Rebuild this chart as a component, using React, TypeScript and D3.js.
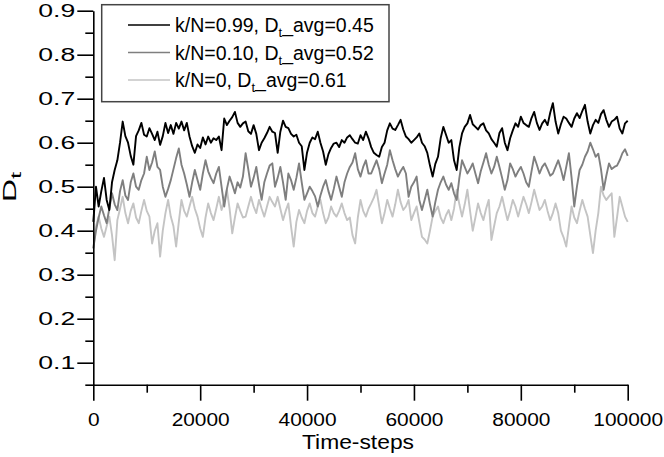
import { useEffect, useRef } from "react";
import * as d3 from "d3";

// one sample every 500 time-steps, 0 .. 100000
const TIME_STEP = 500;

const kn099 = [
  0.42, 0.5, 0.455, 0.49, 0.52, 0.47, 0.447, 0.51, 0.538, 0.56,
  0.6, 0.648, 0.615, 0.6, 0.57, 0.55, 0.615, 0.628, 0.645, 0.618,
  0.614, 0.633, 0.62, 0.606, 0.625, 0.595, 0.615, 0.645, 0.622, 0.64,
  0.62, 0.645, 0.632, 0.648, 0.628, 0.645, 0.614, 0.592, 0.577, 0.596,
  0.588, 0.612, 0.596, 0.614, 0.6, 0.61, 0.606, 0.614, 0.583, 0.655,
  0.64, 0.65, 0.658, 0.67, 0.645, 0.636, 0.644, 0.648, 0.626, 0.62,
  0.64, 0.62, 0.583, 0.6, 0.61, 0.622, 0.636, 0.625, 0.622, 0.577,
  0.625, 0.65, 0.636, 0.633, 0.62, 0.614, 0.618, 0.6, 0.592, 0.538,
  0.578, 0.6, 0.612, 0.608, 0.625, 0.6, 0.58, 0.55, 0.574, 0.588,
  0.598, 0.6, 0.59, 0.606, 0.6, 0.612, 0.617, 0.608, 0.6, 0.598,
  0.617, 0.606, 0.625, 0.61, 0.59, 0.577, 0.572, 0.568, 0.59, 0.6,
  0.628, 0.644, 0.632, 0.629, 0.64, 0.652, 0.63, 0.614, 0.608, 0.6,
  0.606, 0.612, 0.621, 0.6, 0.592, 0.577, 0.548, 0.523, 0.552, 0.568,
  0.61, 0.636, 0.618, 0.6, 0.606, 0.56, 0.538, 0.59, 0.621, 0.636,
  0.644, 0.663, 0.642, 0.636, 0.63, 0.64, 0.644, 0.628, 0.621, 0.608,
  0.6, 0.591, 0.622, 0.633, 0.6, 0.583, 0.61, 0.628, 0.644, 0.636,
  0.659, 0.645, 0.64, 0.636, 0.656, 0.67, 0.645, 0.629, 0.644, 0.652,
  0.64, 0.668, 0.69, 0.648, 0.621, 0.642, 0.659, 0.655, 0.645, 0.636,
  0.655, 0.667, 0.656, 0.672, 0.686, 0.648, 0.621, 0.64, 0.652, 0.645,
  0.665, 0.674, 0.652, 0.636, 0.648, 0.652, 0.659, 0.632, 0.621, 0.644,
  0.65,
];

const kn010 = [
  0.36, 0.4, 0.43, 0.455, 0.435, 0.417, 0.45, 0.485, 0.46, 0.447,
  0.49, 0.515, 0.48, 0.47, 0.51, 0.53, 0.5, 0.493, 0.515, 0.53,
  0.568, 0.538, 0.555, 0.58, 0.545, 0.538, 0.5, 0.477, 0.495, 0.515,
  0.54, 0.565, 0.587, 0.55, 0.53, 0.505, 0.477, 0.51, 0.538, 0.515,
  0.493, 0.53, 0.56, 0.535, 0.52, 0.508, 0.53, 0.545, 0.5, 0.455,
  0.495, 0.523, 0.505, 0.485, 0.51, 0.498, 0.523, 0.576, 0.54, 0.5,
  0.52, 0.545, 0.505, 0.47, 0.51, 0.53, 0.548, 0.553, 0.5, 0.52,
  0.545, 0.51, 0.47, 0.53, 0.515, 0.493, 0.52, 0.553, 0.51, 0.47,
  0.485, 0.5, 0.49, 0.478, 0.455, 0.48, 0.5, 0.515, 0.49, 0.47,
  0.495, 0.523, 0.5, 0.477, 0.51, 0.53, 0.545, 0.555, 0.576, 0.54,
  0.523, 0.545, 0.56, 0.53, 0.53, 0.545, 0.56, 0.54, 0.508, 0.53,
  0.55, 0.583, 0.56, 0.54, 0.523, 0.535, 0.545, 0.53, 0.477, 0.5,
  0.51, 0.523, 0.47, 0.447, 0.47, 0.493, 0.46, 0.432, 0.465, 0.493,
  0.51, 0.523, 0.505, 0.493, 0.508, 0.485, 0.47, 0.52, 0.56, 0.545,
  0.53, 0.54, 0.553, 0.53, 0.508, 0.535, 0.555, 0.576, 0.55, 0.53,
  0.545, 0.568, 0.545, 0.52, 0.493, 0.515, 0.553, 0.54, 0.523, 0.535,
  0.545, 0.53, 0.51, 0.5, 0.535, 0.568, 0.55, 0.53, 0.545, 0.553,
  0.54, 0.525, 0.53, 0.545, 0.56, 0.54, 0.515, 0.545, 0.576, 0.52,
  0.455, 0.5, 0.538, 0.55, 0.568, 0.58, 0.6, 0.585, 0.568, 0.575,
  0.54, 0.493, 0.525, 0.553, 0.54, 0.545, 0.548, 0.56, 0.576, 0.585,
  0.57,
];

const kn000 = [
  0.36, 0.41, 0.432, 0.405, 0.386, 0.41, 0.432, 0.39, 0.333, 0.424,
  0.45, 0.477, 0.44, 0.417, 0.445, 0.462, 0.43, 0.417, 0.445, 0.47,
  0.445, 0.432, 0.371, 0.4, 0.417, 0.341, 0.4, 0.44, 0.47, 0.432,
  0.41, 0.364, 0.42, 0.47, 0.445, 0.432, 0.455, 0.477, 0.45, 0.432,
  0.405, 0.386, 0.43, 0.462, 0.44, 0.424, 0.45, 0.477, 0.447, 0.47,
  0.493, 0.45, 0.394, 0.43, 0.462, 0.445, 0.43, 0.432, 0.455, 0.477,
  0.455, 0.44, 0.47, 0.45, 0.432, 0.455, 0.477, 0.465, 0.455, 0.477,
  0.45, 0.424, 0.445, 0.462, 0.41, 0.364, 0.42, 0.447, 0.43, 0.417,
  0.445, 0.462, 0.44, 0.432, 0.455, 0.47, 0.44, 0.417, 0.43, 0.455,
  0.44, 0.432, 0.445, 0.462, 0.44, 0.424, 0.43, 0.39, 0.371, 0.43,
  0.47, 0.445, 0.432, 0.45, 0.462, 0.475, 0.493, 0.455, 0.417, 0.44,
  0.47, 0.45, 0.432, 0.46, 0.493, 0.465, 0.447, 0.455, 0.47, 0.424,
  0.44, 0.455, 0.42, 0.386, 0.38, 0.371, 0.4, 0.432, 0.445, 0.455,
  0.43, 0.417, 0.435, 0.447, 0.424, 0.45, 0.493, 0.46, 0.432, 0.46,
  0.493, 0.445, 0.4, 0.43, 0.462, 0.44, 0.424, 0.45, 0.47, 0.379,
  0.41, 0.44, 0.455, 0.477, 0.45, 0.424, 0.445, 0.47, 0.455, 0.432,
  0.455, 0.477, 0.46, 0.44, 0.465, 0.493, 0.47, 0.447, 0.455, 0.47,
  0.445, 0.424, 0.44, 0.462, 0.44, 0.4, 0.385, 0.364, 0.41, 0.455,
  0.43, 0.417, 0.445, 0.47, 0.45, 0.432, 0.39, 0.349, 0.4, 0.44,
  0.5, 0.48, 0.47, 0.478, 0.485, 0.386, 0.43, 0.477, 0.455, 0.432,
  0.42,
];

const X_MAJOR = [0, 20000, 40000, 60000, 80000, 100000];
const X_MINOR = [10000, 30000, 50000, 70000, 90000];
const Y_MAJOR = [0.1, 0.2, 0.3, 0.4, 0.5, 0.6, 0.7, 0.8, 0.9];
const Y_MINOR = [0.05, 0.15, 0.25, 0.35, 0.45, 0.55, 0.65, 0.75, 0.85];

// legend order (top to bottom)
const LEGEND_KN = ["0.99", "0.10", "0"];
const LEGEND_AVG = ["0.45", "0.52", "0.61"];
const COLORS = ["#000000", "#7f7f7f", "#c4c4c4"];
const VALUES = [kn099, kn010, kn000];

const FONT = "'Liberation Sans', Arial, sans-serif";

export default function App() {
  const svgRef = useRef<SVGSVGElement>(null);

  useEffect(() => {
    const width = 664;
    const height = 457;
    const svg = d3.select(svgRef.current);
    svg.selectAll("*").remove();
    svg.attr("width", width).attr("height", height);

    const x = d3.scaleLinear().domain([0, 100000]).range([93.3, 627.7]);
    const y = d3.scaleLinear().domain([0.05, 0.9]).range([384.7, 10.7]);

    // ----- lines: lightest first so black sits on top -----
    const line = d3
      .line<number>()
      .x((_, i) => x(i * TIME_STEP))
      .y((d) => y(d));
    [2, 1, 0].forEach((s) => {
      svg
        .append("path")
        .datum(VALUES[s])
        .attr("fill", "none")
        .attr("stroke", COLORS[s])
        .attr("stroke-width", 1.9)
        .attr("stroke-linejoin", "round")
        .attr("d", line);
    });

    // ----- axes -----
    const styleAxis = (g: any) => {
      g.select(".domain").attr("stroke", "#000").attr("stroke-width", 1.6);
      g.selectAll(".tick line").attr("stroke", "#000").attr("stroke-width", 1.6);
      g.attr("font-size", 19).attr("font-family", FONT);
      g.selectAll(".tick text").attr("fill", "#000");
    };

    // the original labels are drawn wide, so stretch them sideways
    const ySx = 1.4;
    const yG = svg.append("g").attr("transform", "translate(93.3,0)");
    yG.call(
      d3.axisLeft(y).tickValues(Y_MAJOR).tickSize(16).tickSizeOuter(0)
        .tickPadding(2).tickFormat(d3.format(".1f"))
    );
    styleAxis(yG);
    yG.selectAll(".tick text")
      .attr("x", -18 / ySx)
      .attr("transform", `scale(${ySx},1)`);
    const yMinorG = svg.append("g").attr("transform", "translate(93.3,0)");
    yMinorG.call(d3.axisLeft(y).tickValues(Y_MINOR).tickSize(8).tickFormat(() => ""));
    yMinorG.select(".domain").remove();
    styleAxis(yMinorG);

    const xG = svg.append("g").attr("transform", "translate(0,384.7)");
    xG.call(
      d3.axisBottom(x).tickValues(X_MAJOR).tickSize(16).tickSizeOuter(0)
        .tickPadding(12).tickFormat(d3.format("d"))
    );
    styleAxis(xG);
    xG.selectAll(".tick text").attr("transform", "scale(1.1,1)");
    const xMinorG = svg.append("g").attr("transform", "translate(0,384.7)");
    xMinorG.call(d3.axisBottom(x).tickValues(X_MINOR).tickSize(8).tickFormat(() => ""));
    xMinorG.select(".domain").remove();
    styleAxis(xMinorG);

    // axis titles
    svg.append("text")
      .attr("transform", "translate(358,449) scale(1.17,1)")
      .attr("text-anchor", "middle")
      .attr("font-family", FONT).attr("font-size", 19.5)
      .text("Time-steps");

    const yt = svg.append("text")
      .attr("transform", "translate(16,187) rotate(-90) scale(1.7,1)")
      .attr("text-anchor", "middle")
      .attr("font-family", FONT).attr("font-size", 19);
    yt.append("tspan").text("D");
    yt.append("tspan").attr("font-size", 15).attr("dy", 5).text("t");

    // ----- legend -----
    const legend = svg.append("g");
    legend.append("rect")
      .attr("x", 101.7).attr("y", 4.7)
      .attr("width", 287.3).attr("height", 97)
      .attr("fill", "#fff")
      .attr("stroke", "#444").attr("stroke-width", 1.5);
    LEGEND_KN.forEach((kn, i) => {
      const cy = 25 + i * 27.5;
      legend.append("line")
        .attr("x1", 128).attr("x2", 170)
        .attr("y1", cy).attr("y2", cy)
        .attr("stroke", COLORS[i]).attr("stroke-width", 1.3);
      const t = legend.append("text")
        .attr("x", 175).attr("y", cy + 7)
        .attr("font-family", FONT).attr("font-size", 19.5);
      t.append("tspan").text(`k/N=${kn}, D`);
      t.append("tspan").attr("font-size", 13).attr("dy", 5).text("t");
      t.append("tspan").attr("dy", -5).text(`_avg=${LEGEND_AVG[i]}`);
    });
  }, []);

  return (
    <div style={{ position: "absolute", left: 0, top: 0 }}>
      <svg ref={svgRef}></svg>
    </div>
  );
}
